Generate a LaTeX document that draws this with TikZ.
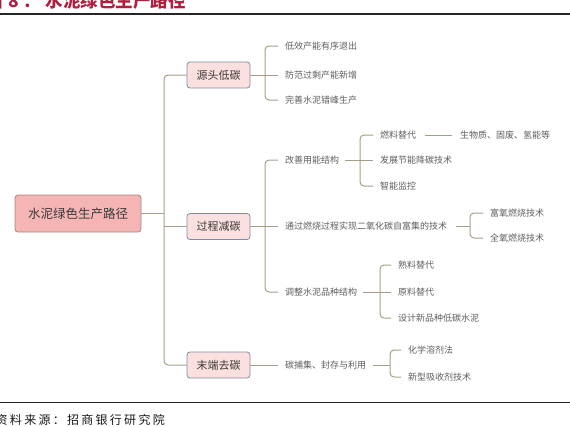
\documentclass[tikz,border=0pt]{standalone}
\usepackage{fontspec}
\newfontfamily\cjk{Noto Sans CJK SC}
\newfontfamily\cjkfoot{Noto Sans CJK SC}[LetterSpace=19]
\definecolor{linec}{HTML}{A69E89}
\definecolor{rootfill}{HTML}{F5B5B5}
\definecolor{rootborder}{HTML}{A8857A}
\definecolor{lonefill}{HTML}{FCE0E0}
\definecolor{loneborder}{HTML}{7E8CA3}
\definecolor{textdark}{HTML}{3A3A3A}
\definecolor{leafc}{HTML}{5E5E5E}
\definecolor{titlec}{HTML}{B01E40}
\begin{document}
\begin{tikzpicture}[x=1pt,y=-1pt,
  conn/.style={draw=linec, line width=1pt, rounded corners=4pt},
  rootbox/.style={draw=rootborder, fill=rootfill, rounded corners=3pt, line width=0.8pt,
    minimum width=126pt, minimum height=37pt, inner sep=0pt,
    font=\cjk\fontsize{12.5}{14}\selectfont, text=textdark},
  lonebox/.style={draw=loneborder, fill=lonefill, rounded corners=3pt, line width=0.8pt,
    minimum width=63pt, minimum height=26pt, inner sep=0pt,
    font=\cjk\fontsize{11}{13}\selectfont, text=textdark},
  leaf/.style={anchor=west, inner sep=2pt, font=\cjk\fontsize{9}{11}\selectfont, text=leafc},
  cin/.style={shorten <=5pt, shorten >=5pt},
  cout/.style={shorten >=5pt}
]
\useasboundingbox (0,0) rectangle (570,426);

% title and rules
\node[anchor=base west, inner sep=0pt, font=\cjk\bfseries\fontsize{17.5}{18}\selectfont, text=titlec] (title) at (-14.5,7)
  {图\hspace{5pt}8\hspace{5pt}：\hspace{4.5pt}水泥绿色生产路径};
\coordinate (tl) at (0,14);
\coordinate (tr) at (570,14);
\draw[line width=1.3pt, draw=black!85] (tl) -- (tr);
\coordinate (bl) at (0,402.5);
\coordinate (br) at (570,402.5);
\draw[line width=1pt, draw=black!85] (bl) -- (br);
\node[anchor=base west, inner sep=0pt, font=\cjkfoot\fontsize{12}{13}\selectfont, text=black!90] (foot) at (-4.5,424)
  {资料来源：招商银行研究院};

% root and level 1
\node[rootbox] (root) at (78,213.5) {水泥绿色生产路径};
\node[lonebox] (s1) at (218.5,75) {源头低碳};
\node[lonebox] (s2) at (218.5,226.5) {过程减碳};
\node[lonebox] (s3) at (218.5,365) {末端去碳};

\coordinate (tj) at (164,213.5);
\draw[conn] (root.east) -- (tj);
\draw[conn] (s1.west) -| (tj) |- (s3.west);
\draw[conn] (tj |- s2.west) -- (s2.west);

% source
\node[leaf] (a1) at (283,46) {低效产能有序退出};
\node[leaf] (a2) at (283,75) {防范过剩产能新增};
\node[leaf] (a3) at (283,100) {完善水泥错峰生产};
\coordinate (aj) at (265,75);
\draw[conn, cout] (s1.east) -- (a2.west);
\draw[conn, cin] (a1.west) -| (aj) |- (a3.west);

% process
\node[leaf] (b1) at (283,160) {改善用能结构};
\node[leaf] (b2) at (283,226.5) {通过燃烧过程实现二氧化碳自富集的技术};
\node[leaf] (b3) at (283,292) {调整水泥品种结构};
\coordinate (bj) at (265,226.5);
\draw[conn, cout] (s2.east) -- (b2.west);
\draw[conn, cin] (b1.west) -| (bj) |- (b3.west);

\node[leaf] (c1) at (378,135) {燃料替代};
\node[leaf] (c2) at (378,160) {发展节能降碳技术};
\node[leaf] (c3) at (378,186) {智能监控};
\coordinate (cj) at (360,160);
\draw[conn, shorten <=4pt, shorten >=5pt] (b1.east) -- (c2.west);
\draw[conn, cin] (c1.west) -| (cj) |- (c3.west);

\node[leaf] (d1) at (458,135) {生物质、固废、氢能等};
\draw[conn, shorten <=7pt, shorten >=6pt] (c1.east) -- (d1.west);

\node[leaf] (e1) at (488,213) {富氧燃烧技术};
\node[leaf] (e2) at (488,238) {全氧燃烧技术};
\coordinate (ej) at (470,226.5);
\draw[conn, shorten <=7pt] (b2.east) -- (ej);
\draw[conn, cin] (e1.west) -| (ej) |- (e2.west);

\node[leaf] (f1) at (396,265) {熟料替代};
\node[leaf] (f2) at (396,292) {原料替代};
\node[leaf] (f3) at (396,318) {设计新品种低碳水泥};
\coordinate (fj) at (380,292);
\draw[conn, shorten <=4pt, shorten >=5pt] (b3.east) -- (f2.west);
\draw[conn, cin] (f1.west) -| (fj) |- (f3.west);

% end
\node[leaf] (g1) at (283,365) {碳捕集、封存与利用};
\draw[conn, cout] (s3.east) -- (g1.west);
\node[leaf] (h1) at (406,350) {化学溶剂法};
\node[leaf] (h2) at (406,377) {新型吸收剂技术};
\coordinate (hj) at (390,363.5);
\draw[conn, shorten <=5pt] (g1.east) -- (hj |- g1.east);
\draw[conn, cin] (h1.west) -| (hj) |- (h2.west);
\end{tikzpicture}
\end{document}
